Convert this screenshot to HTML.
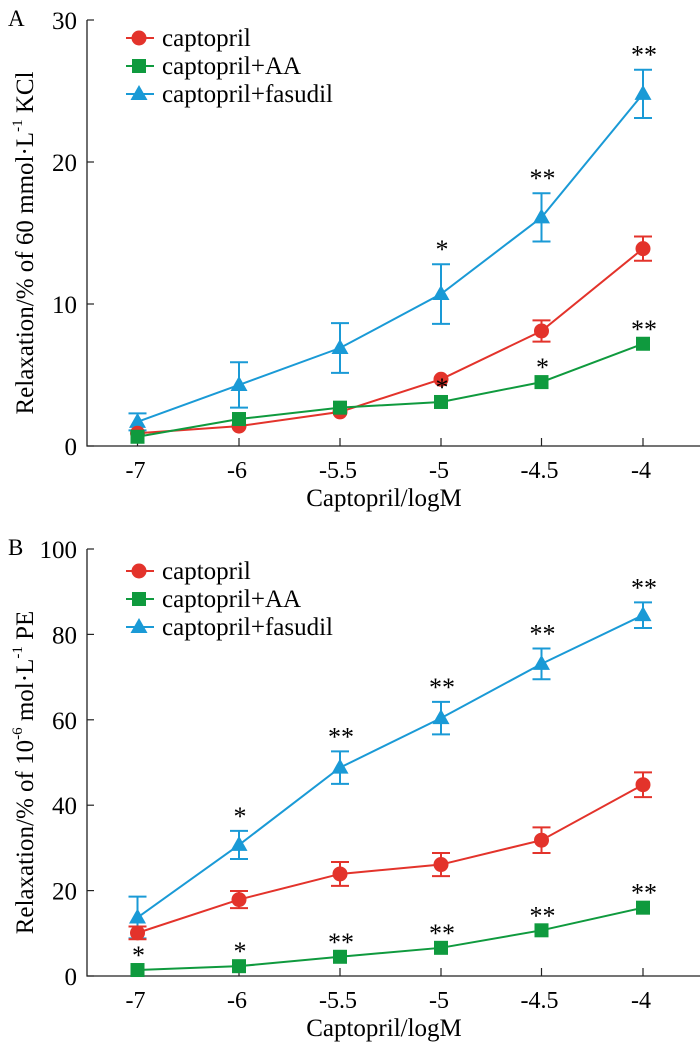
<!DOCTYPE html>
<html><head><meta charset="utf-8"><style>
html,body{margin:0;padding:0;background:#fff;}
svg{display:block;font-family:"Liberation Serif",serif;}
</style></head><body>
<svg id="chart" width="700" height="1045" viewBox="0 0 700 1045" xmlns="http://www.w3.org/2000/svg"></svg>
<script>
const categories = ["-7","-6","-5.5","-5","-4.5","-4"];
const aTicks = [0,10,20,30];
const aCap = [0.9,1.4,2.4,4.7,8.1,13.9];
const aCapErr = [0,0,0,0,0.75,0.85];
const aAA = [0.65,1.9,2.7,3.1,4.5,7.2];
const aAAErr = [0,0,0,0,0,0];
const aFas = [1.7,4.3,6.9,10.7,16.1,24.8];
const aFasErr = [0.6,1.6,1.75,2.1,1.7,1.7];
const aFasStars = ["","","","*","**","**"];
const aAAStars = ["","","","*","*","**"];
const bTicks = [0,20,40,60,80,100];
const bCap = [10.1,17.9,23.9,26.1,31.8,44.8];
const bCapErr = [1.5,2,2.8,2.7,3,2.9];
const bAA = [1.4,2.3,4.5,6.6,10.7,16];
const bAAErr = [0,0,0,0,0,0];
const bFas = [13.7,30.7,48.8,60.4,73.1,84.5];
const bFasErr = [4.9,3.3,3.8,3.8,3.6,3];
const bFasStars = ["","*","**","**","**","**"];
const bAAStars = ["*","*","**","**","**","**"];

const RED="#e3332b", GREEN="#0f9a3e", BLUE="#1a9ad6";
const svg=document.getElementById('chart');
const NS="http://www.w3.org/2000/svg";
function mk(tag,attrs,parent,text){const e=document.createElementNS(NS,tag);for(const k in attrs)e.setAttribute(k,attrs[k]);if(text!==undefined)e.textContent=text;(parent||svg).appendChild(e);return e;}

function marker(g,shape,x,y,color){
  let m;
  if(shape==='circle'){m=mk('circle',{cx:x,cy:y,r:7.5,fill:color},g);}
  else if(shape==='square'){m=mk('rect',{x:x-7,y:y-7,width:14,height:14,fill:color},g);}
  else {m=mk('polygon',{points:`${x},${y-9} ${x-8.5},${y+6} ${x+8.5},${y+6}`,fill:color},g);}
  return m;
}

function panel(id,letter,top,y0,yMax,ticks,series,ytitle,sup,ytitleTail,legendY){
  const g=mk('g',{});
  
  
  const X0=87, xs=[137.5,239,340,441,541.5,643];
  const xScale=i=>xs[i];
  const yScale=v=>y0-(v/yMax)*(y0-top);
  const lab=mk('text',{x:8,y:top+6,'font-size':23},g,letter);
  
  
  const ax=mk('path',{d:`M${X0},${top} V${y0} H700`,stroke:'#222','stroke-width':1.3,fill:'none'},g);
  
  
  ticks.forEach(t=>{
    const y=yScale(t);
    mk('line',{x1:X0,x2:X0+7,y1:y,y2:y,stroke:'#222','stroke-width':1.2},g);
    const tl=mk('text',{x:X0-10,y:y+9,'font-size':25,'text-anchor':'end'},g,String(t));
    
    
  });
  categories.forEach((c,i)=>{
    const x=xScale(i);
    mk('line',{x1:x,x2:x,y1:y0,y2:y0-8,stroke:'#222','stroke-width':1.2},g);
    const tl=mk('text',{x:x-2,y:y0+32,'font-size':24,'text-anchor':'middle'},g,c);
    
    
  });
  const xt=mk('text',{x:384,y:y0+60,'font-size':25,'text-anchor':'middle'},g,'Captopril/logM');
  
  
  const cy=(top+y0)/2+10;
  const yt=mk('text',{transform:`translate(33,${cy}) rotate(-90)`,'font-size':25,'text-anchor':'middle'},g);
  
  
  yt.innerHTML=ytitle+'<tspan dy="-11" font-size="15">'+sup+'</tspan><tspan dy="11"> '+ytitleTail+'</tspan>';

  series.forEach(s=>{
    const sg=mk('g',{},g);
    
    
    const pts=s.vals.map((v,i)=>[xScale(i),yScale(v)]);
    mk('polyline',{points:pts.map(p=>p.join(',')).join(' '),fill:'none',stroke:s.color,'stroke-width':2},sg);
    s.vals.forEach((v,i)=>{
      const e=s.err[i];
      if(e>0){
        const x=xScale(i),yh=yScale(v+e),yl=yScale(v-e);
        const eb=mk('path',{d:`M${x},${yh}V${yl}M${x-9},${yh}H${x+9}M${x-9},${yl}H${x+9}`,stroke:s.color,'stroke-width':2,fill:'none'},sg);
        
        
      }
    });
    s.vals.forEach((v,i)=>{
      const m=marker(sg,s.shape,xScale(i),yScale(v),s.color);
      
      
    });
    if(s.stars){
      s.stars.forEach((st,i)=>{
        if(!st)return;
        const topv=s.vals[i]+s.err[i];
        const t=mk('text',{x:xScale(i)+1,y:yScale(topv)-6,'font-size':26,'text-anchor':'middle'},sg,st);
        
        
      });
    }
  });
  const lg=mk('g',{},g);
  
  
  series.slice().sort((a,b)=>a.order-b.order).forEach((s,k)=>{
    const y=legendY+k*28;
    const eg=mk('g',{},lg);
    
    
    mk('line',{x1:126,x2:154,y1:y,y2:y,stroke:s.color,'stroke-width':2},eg);
    marker(eg,s.shape,139,y,s.color);
    mk('text',{x:162,y:y+8,'font-size':25},eg,s.label);
  });
}

panel('a','A',20,446,30,aTicks,[
  {name:'captopril-fasudil',label:'captopril+fasudil',order:2,shape:'triangle',color:BLUE,vals:aFas,err:aFasErr,stars:aFasStars},
  {name:'captopril',label:'captopril',order:0,shape:'circle',color:RED,vals:aCap,err:aCapErr},
  {name:'captopril-aa',label:'captopril+AA',order:1,shape:'square',color:GREEN,vals:aAA,err:aAAErr,stars:aAAStars}
],'Relaxation/% of 60 mmol·L','-1','KCl',38);

panel('b','B',549,976,100,bTicks,[
  {name:'captopril-fasudil',label:'captopril+fasudil',order:2,shape:'triangle',color:BLUE,vals:bFas,err:bFasErr,stars:bFasStars},
  {name:'captopril',label:'captopril',order:0,shape:'circle',color:RED,vals:bCap,err:bCapErr},
  {name:'captopril-aa',label:'captopril+AA',order:1,shape:'square',color:GREEN,vals:bAA,err:bAAErr,stars:bAAStars}
],'Relaxation/% of 10','-6','mol·L<tspan dy="-11" font-size="15">-1</tspan><tspan dy="11"> PE</tspan>',571);
</script>
</body></html>
